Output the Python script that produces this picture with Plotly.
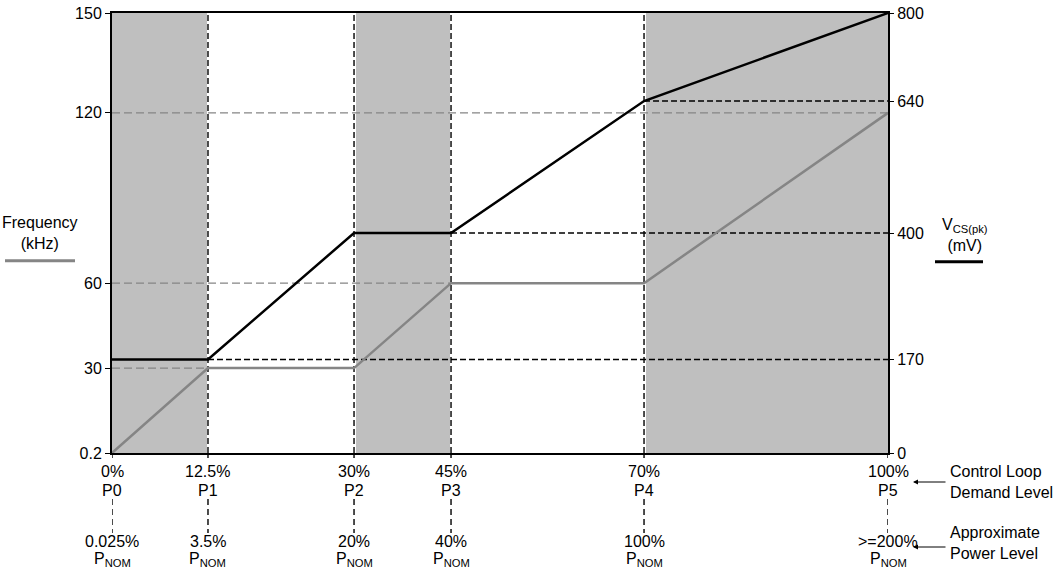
import numpy as np
import plotly.graph_objects as go

# ---- data ----
demand_labels = ["0%", "12.5%", "30%", "45%", "70%", "100%"]
point_names = ["P0", "P1", "P2", "P3", "P4", "P5"]
power_labels = ["0.025%", "3.5%", "20%", "40%", "100%", ">=200%"]
vcs_mv = [170, 170, 400, 400, 640, 800]
freq_khz = [0.2, 30, 30, 60, 60, 120]
freq_ticks = [0.2, 30, 60, 120, 150]
vcs_ticks = [0, 170, 400, 640, 800]
shaded_spans = [(0, 1), (2, 3), (4, 5)]

# ---- schematic (non-uniform) axis placement ----
x_frac = [0, 0.1237, 0.3119, 0.4369, 0.6856, 1.0]
freq_tick_frac = [0, 0.193, 0.386, 0.773, 1.0]

def fpos(v):
    return np.interp(v, freq_ticks, freq_tick_frac)

xs = x_frac
FONT = "Liberation Sans, Arial, sans-serif"
FS = 16
GREY = "#858585"
SHADE = "#BFBFBF"
PW = 776.0  # plot width px
PH = 440.0  # plot height px

fig = go.Figure()

shapes = []
for a, b in shaded_spans:
    shapes.append(dict(type="rect", xref="x", yref="paper", x0=xs[a] + (2 / PW if a else 0),
                       x1=xs[b], y0=0, y1=1, fillcolor=SHADE, line_width=0, layer="below"))
# vertical dashed lines inside plot (black dashes on a thin white strip)
for i in range(1, 5):
    shapes.append(dict(type="line", xref="x", yref="paper", x0=xs[i], x1=xs[i], y0=0, y1=1,
                       line=dict(color="white", width=2), layer="below"))
    shapes.append(dict(type="line", xref="x", yref="paper", x0=xs[i], x1=xs[i], y0=0, y1=1,
                       line=dict(color="black", width=1.4, dash="6px,3px"), layer="below"))
# below-axis tick and dashed connectors
for i in range(6):
    shapes.append(dict(type="line", xref="x", yref="paper", x0=xs[i], x1=xs[i], y0=0, y1=-5 / PH,
                       line=dict(color="black", width=1.4)))
    shapes.append(dict(type="line", xref="x", yref="paper", x0=xs[i], x1=xs[i],
                       y0=-46 / PH, y1=-80 / PH,
                       line=dict(color="black", width=1.4, dash="6px,4px")))
# grey dashed frequency guides: from left axis to where the grey line reaches the value
for v, idx in [(120, 5), (60, 3), (30, 1)]:
    shapes.append(dict(type="line", xref="x", yref="y", x0=0, x1=xs[idx], y0=fpos(v), y1=fpos(v),
                       line=dict(color=GREY, width=1.2, dash="8px,4px"), layer="below"))
# black dashed VCS guides: from where black line reaches value to right axis
for v, idx in [(170, 1), (400, 3), (640, 4)]:
    shapes.append(dict(type="line", xref="x", yref="y2", x0=xs[idx], x1=1, y0=v, y1=v,
                       line=dict(color="black", width=1.3, dash="6px,3px"), layer="below"))

fig.add_trace(go.Scatter(x=xs, y=[fpos(v) for v in freq_khz], mode="lines",
                         line=dict(color=GREY, width=2.5), yaxis="y", hoverinfo="skip"))
fig.add_trace(go.Scatter(x=xs, y=vcs_mv, mode="lines",
                         line=dict(color="black", width=2.5), yaxis="y2", hoverinfo="skip"))

ann = []
for i in range(6):
    ann.append(dict(x=xs[i], y=0, xref="x", yref="paper", yanchor="middle", yshift=-18,
                    text=demand_labels[i], showarrow=False))
    ann.append(dict(x=xs[i], y=0, xref="x", yref="paper", yanchor="middle", yshift=-37,
                    text=point_names[i], showarrow=False))
    ann.append(dict(x=xs[i], y=0, xref="x", yref="paper", yanchor="middle", yshift=-88,
                    text=power_labels[i], showarrow=False))
    ann.append(dict(x=xs[i], y=0, xref="x", yref="paper", yanchor="middle", yshift=-106,
                    text="P<sub>NOM</sub>", showarrow=False))

# right-side notes with arrows
ann.append(dict(x=1, y=0, xref="paper", yref="paper", xanchor="left", yanchor="middle",
                xshift=60, yshift=-29, align="left",
                text="Control Loop<br>Demand Level", showarrow=False))
ann.append(dict(x=1, y=0, xref="paper", yref="paper", xanchor="left", yanchor="middle",
                xshift=60, yshift=-90, align="left",
                text="Approximate<br>Power Level", showarrow=False))
for ysh in (-29, -94):
    ann.append(dict(x=1, y=0, xref="paper", yref="paper", xshift=25, yshift=ysh,
                    ax=34, ay=0, text="", showarrow=True,
                    arrowhead=2, arrowsize=1, arrowwidth=1, arrowcolor="black", standoff=0))

# axis titles
ann.append(dict(x=0, y=0.5, xref="paper", yref="paper", xanchor="center", yanchor="middle",
                xshift=-72, yshift=0, text="Frequency<br>(kHz)", showarrow=False))
ann.append(dict(x=1, y=0.5, xref="paper", yref="paper", xanchor="center", yanchor="middle",
                xshift=77, yshift=-2, text="V<sub>CS(pk)</sub><br>(mV)", showarrow=False))
shapes.append(dict(type="line", xref="paper", yref="paper", x0=-107 / PW, x1=-37 / PW,
                   y0=(453.3 - 261) / PH, y1=(453.3 - 261) / PH,
                   line=dict(color=GREY, width=3)))
shapes.append(dict(type="line", xref="paper", yref="paper", x0=1 + 47 / PW, x1=1 + 95 / PW,
                   y0=(453.3 - 262) / PH, y1=(453.3 - 262) / PH,
                   line=dict(color="black", width=3)))

fig.update_layout(
    width=1057, height=573,
    margin=dict(l=112, r=169, t=13, b=120, autoexpand=False),
    paper_bgcolor="white", plot_bgcolor="white",
    showlegend=False,
    font=dict(family=FONT, size=FS, color="black"),
    xaxis=dict(range=[0, 1], showgrid=False, zeroline=False, showticklabels=False,
               ticks="", showline=True, linewidth=2, linecolor="black", mirror=True,
               automargin=False, fixedrange=True),
    yaxis=dict(range=[0, 1], tickvals=freq_tick_frac, ticktext=[str(t) for t in freq_ticks],
               showgrid=False, zeroline=False, ticks="outside", ticklen=5, tickwidth=1,
               tickcolor="black", showline=True, linewidth=2, linecolor="black", mirror=True,
               automargin=False, ticklabeloverflow="allow", tickfont=dict(size=FS)),
    yaxis2=dict(range=[0, 800], tickvals=vcs_ticks, ticktext=[str(t) for t in vcs_ticks],
                overlaying="y", side="right", showgrid=False, zeroline=False,
                ticks="outside", ticklen=5, tickwidth=1, tickcolor="black",
                showline=False, automargin=False, ticklabeloverflow="allow",
                tickfont=dict(size=FS)),
    shapes=shapes,
    annotations=ann,
)

fig.write_html("out.html", config={"displayModeBar": False},
               post_script="document.body.style.margin='0';")
